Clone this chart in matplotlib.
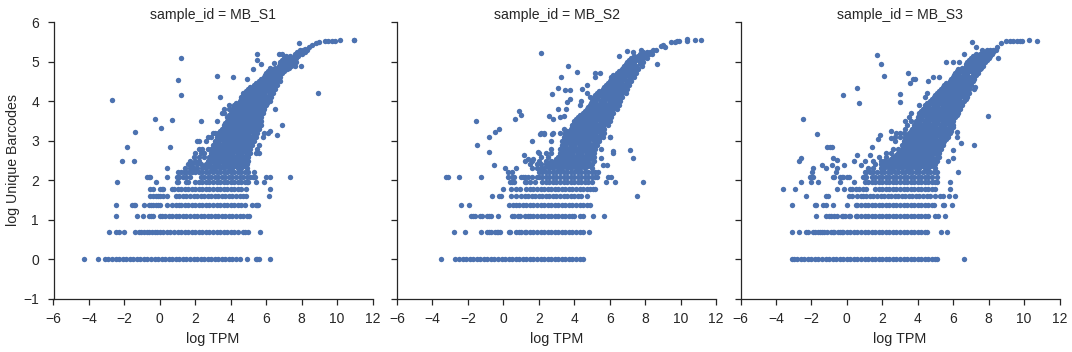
import matplotlib
matplotlib.use("Agg")
import matplotlib.pyplot as plt

plt.rcParams["font.family"] = ["Liberation Sans", "DejaVu Sans"]

titles = ["sample_id = MB_S1", "sample_id = MB_S2", "sample_id = MB_S3"]
xticks = [-6, -4, -2, 0, 2, 4, 6, 8, 10, 12]
yticks = [-1, 0, 1, 2, 3, 4, 5, 6]

# log counts show up as flat rows at the bottom
levels = [0.0, 0.693, 1.099, 1.386, 1.609, 1.792, 1.946, 2.079, 2.197]
cloud_y = [2.3, 2.4, 2.5, 2.6, 2.7, 2.8, 2.9, 3.0, 3.1, 3.2, 3.3, 3.4, 3.5, 3.6, 3.7, 3.8,
           3.9, 4.0, 4.1, 4.2, 4.3, 4.4, 4.5, 4.6, 4.7, 4.8, 4.9, 5.0, 5.1, 5.2, 5.3]
fill_y = [2.35, 2.45, 2.55, 2.65, 2.75, 2.85, 2.95, 3.05, 3.15, 3.25, 3.35, 3.45, 3.55, 3.65, 3.75,
          3.85, 3.95, 4.05, 4.15, 4.25, 4.35, 4.45, 4.55, 4.65, 4.75, 4.85, 4.95, 5.05, 5.15, 5.25]

s1_levels = [
    [-4.3, -3.5, -3.1, -2.9, -2.7, -2.5, -2.3, -2.1, -1.9, -1.7, -1.5, -1.3, -1.1, -0.9, -0.7, -0.5, -0.3, -0.1, 0.1, 0.3, 0.5, 0.7, 0.9, 1.1, 1.3, 1.5, 1.7, 1.9, 2.1, 2.3, 2.5, 2.7, 2.9, 3.1, 3.3, 3.5, 3.7, 3.9, 4.1, 4.3, 4.5, 4.9, 5.4, 5.5, 5.6, 6.2],
    [-2.85, -2.5, -2.3, -2.05, -1.4, -1.2, -1.05, -0.9, -0.75, -0.6, -0.45, -0.3, -0.15, 0.0, 0.2, 0.4, 0.6, 0.8, 1.0, 1.2, 1.4, 1.6, 1.8, 2.0, 2.2, 2.4, 2.6, 2.8, 3.0, 3.2, 3.4, 3.6, 3.8, 4.0, 4.2, 4.4, 4.7, 4.8, 4.95, 5.65],
    [-2.5, -1.3, -0.95, -0.6, -0.5, -0.4, 0.0, 0.15, 0.3, 0.5, 0.7, 0.9, 1.1, 1.3, 1.5, 1.7, 1.9, 2.1, 2.3, 2.5, 2.7, 2.9, 3.1, 3.3, 3.5, 3.7, 3.9, 4.1, 4.3, 4.5, 4.7, 4.9, 5.05],
    [-2.5, -1.55, -1.45, -1.4, -0.9, -0.6, -0.5, -0.4, -0.2, -0.1, 0.0, 0.4, 0.7, 0.9, 1.1, 1.2, 1.4, 1.6, 1.8, 2.0, 2.2, 2.4, 2.6, 2.8, 3.0, 3.2, 3.4, 3.6, 3.8, 4.0, 4.2, 4.4, 4.6, 4.8, 5.2, 5.4, 5.5, 5.55],
    [-0.55, -0.4, -0.2, -0.1, 0.0, 0.2, 0.4, 0.9, 1.1, 1.3, 1.5, 1.7, 1.9, 2.1, 2.3, 2.5, 2.7, 2.9, 3.1, 3.3, 3.5, 3.7, 3.9, 4.1, 4.3, 4.5, 4.7, 4.85, 6.15],
    [-0.55, -0.4, 0.0, 0.1, 0.2, 0.7, 0.8, 1.0, 1.2, 1.4, 1.6, 1.8, 2.0, 2.2, 2.4, 2.6, 2.8, 3.0, 3.2, 3.4, 3.6, 3.8, 4.0, 4.2, 4.4, 4.6, 4.85, 6.2],
    [-0.2, 0.95, 1.0, 1.5, 1.6, 2.0, 2.2, 2.4, 2.6, 2.8, 3.0, 3.2, 3.4, 3.6, 3.8, 4.0, 4.2, 4.4, 4.6, 4.8, 4.9, 5.0, 5.4, 5.85],
    [-0.7, -0.6, -0.55, 0.38, 0.95, 1.1, 1.3, 1.5, 1.7, 2.3, 2.5, 2.7, 2.9, 3.1, 3.3, 3.5, 3.7, 3.9, 4.1, 4.3, 4.5, 4.7, 4.9, 5.1, 5.25, 5.35, 6.0, 6.23, 7.36],
    [1.05, 1.2, 1.35, 1.5, 1.65, 1.8, 2.0, 2.2, 2.4, 2.6, 2.8, 3.0, 3.2, 3.4, 3.6, 3.8, 4.0, 4.2, 4.4, 4.6, 4.8, 5.0, 5.3],
]
s1_cloud = [
    [1.4, 1.7, 1.9, 2.1, 2.4, 2.6, 2.9, 3.1, 3.4, 3.6, 3.9, 4.1, 4.4, 4.6, 4.9],
    [1.6, 1.8, 2.1, 2.3, 2.6, 2.8, 3.1, 3.3, 3.6, 3.8, 4.1, 4.3, 4.6, 4.9],
    [1.7, 2.0, 2.2, 2.7, 2.9, 3.2, 3.4, 3.7, 3.9, 4.2, 4.4, 4.7, 5.0],
    [1.9, 2.2, 2.5, 2.8, 3.0, 3.3, 3.5, 3.8, 4.0, 4.3, 4.5, 4.8, 5.0],
    [2.0, 2.3, 2.5, 2.9, 3.1, 3.4, 3.6, 3.9, 4.1, 4.4, 4.6, 4.9, 5.1, 5.4, 5.6],
    [2.2, 2.4, 2.7, 2.9, 3.2, 3.4, 3.7, 3.9, 4.2, 4.4, 4.7, 4.9, 5.1, 5.5],
    [3.0, 3.2, 3.5, 3.7, 4.0, 4.2, 4.5, 4.7, 5.0, 5.2, 5.6],
    [2.1, 2.2, 2.6, 3.1, 3.3, 3.6, 3.8, 4.1, 4.3, 4.6, 4.8, 5.1, 5.3],
    [2.7, 2.9, 3.2, 3.4, 3.7, 3.9, 4.2, 4.4, 4.7, 4.9, 5.2, 5.4, 5.8],
    [3.0, 3.1, 3.3, 3.5, 3.8, 4.0, 4.3, 4.5, 4.8, 5.0, 5.3, 5.5, 5.9, 6.1],
    [3.5, 3.7, 4.0, 4.2, 4.5, 4.7, 5.0, 5.2, 5.4, 5.6],
    [3.6, 3.8, 4.1, 4.3, 4.6, 4.8, 5.1, 5.3, 5.5, 5.7],
    [3.2, 3.8, 4.0, 4.3, 4.5, 4.8, 5.0, 5.3, 5.5, 5.7],
    [3.8, 4.0, 4.3, 4.5, 4.8, 5.0, 5.3, 5.5, 5.7],
    [3.5, 3.6, 4.0, 4.2, 4.5, 4.7, 5.0, 5.2, 5.5, 5.8],
    [3.6, 3.9, 4.1, 4.3, 4.6, 4.8, 5.1, 5.3, 5.6, 5.9, 6.5],
    [3.9, 4.2, 4.4, 4.7, 4.9, 5.2, 5.4, 5.7, 6.0],
    [4.5, 4.7, 5.0, 5.2, 5.5, 5.7, 6.0, 6.2],
    [3.4, 4.6, 4.8, 5.1, 5.3, 5.6, 5.8, 6.1, 6.3],
    [4.7, 4.9, 5.2, 5.4, 5.7, 5.9, 6.2, 6.4],
    [5.0, 5.2, 5.5, 5.7, 6.0, 6.2, 6.5],
    [5.3, 5.5, 5.8, 6.0, 6.3, 6.6],
    [5.6, 5.8, 6.1, 6.3, 6.6, 6.8],
    [5.9, 6.1, 6.4, 6.6, 6.8],
    [6.0, 6.2, 6.5, 6.7, 6.9],
    [6.4, 6.6, 6.9, 7.2],
    [6.7, 6.9, 7.1, 7.4, 7.6],
    [6.8, 7.0, 7.3, 7.5, 7.7],
    [7.0, 7.2, 7.5, 7.7],
    [6.7, 6.9, 7.6, 7.8, 8.0],
    [7.9, 8.1, 8.3],
]
s1_fill = [
    [2.5, 2.75, 3.0, 3.25, 3.5, 3.75, 4.0, 4.25, 4.5, 4.75],
    [2.8, 3.05, 3.3, 3.55, 3.8, 4.05, 4.3, 4.55, 4.8],
    [2.85, 3.1, 3.35, 3.6, 3.85, 4.1, 4.35, 4.6, 4.85],
    [2.9, 3.15, 3.4, 3.65, 3.9, 4.15, 4.4, 4.65, 4.9],
    [3.0, 3.25, 3.5, 3.75, 4.0, 4.25, 4.5, 4.75, 5.0],
    [3.05, 3.3, 3.55, 3.8, 4.05, 4.3, 4.55, 4.8, 5.05],
    [3.1, 3.35, 3.6, 3.85, 4.1, 4.35, 4.6, 4.85, 5.1],
    [3.2, 3.45, 3.7, 3.95, 4.2, 4.45, 4.7, 4.95, 5.2],
    [3.3, 3.55, 3.8, 4.05, 4.3, 4.55, 4.8, 5.05, 5.3],
    [3.4, 3.65, 3.9, 4.15, 4.4, 4.65, 4.9, 5.15, 5.4],
    [3.6, 3.85, 4.1, 4.35, 4.6, 4.85, 5.1, 5.35, 5.6],
    [3.7, 3.95, 4.2, 4.45, 4.7, 4.95, 5.2, 5.45, 5.65],
    [3.9, 4.15, 4.4, 4.65, 4.9, 5.15, 5.4, 5.65],
    [3.9, 4.15, 4.4, 4.65, 4.9, 5.15, 5.4, 5.65],
    [4.1, 4.35, 4.6, 4.85, 5.1, 5.35, 5.6, 5.8],
    [4.2, 4.45, 4.7, 4.95, 5.2, 5.45, 5.7, 5.85],
    [4.3, 4.55, 4.8, 5.05, 5.3, 5.55, 5.8, 6.05],
    [4.6, 4.85, 5.1, 5.35, 5.6, 5.85, 6.1],
    [4.7, 4.95, 5.2, 5.45, 5.7, 5.95, 6.2],
    [4.85, 5.1, 5.35, 5.6, 5.85, 6.1, 6.35],
    [5.1, 5.35, 5.6, 5.85, 6.1, 6.4],
    [5.4, 5.65, 5.9, 6.15, 6.45],
    [5.7, 5.95, 6.2, 6.45, 6.7],
    [5.95, 6.25, 6.5, 6.75],
    [6.1, 6.35, 6.6, 6.8, 7.0],
    [6.5, 6.75, 7.0, 7.3],
    [6.8, 7.0, 7.25, 7.5],
    [6.9, 7.15, 7.4, 7.6],
    [7.1, 7.35, 7.6, 7.8],
    [7.75, 8.0, 8.2],
]
s1_out_x = [-2.71, 1.18, 1.0, 1.18, -0.3, 0.04, 0.71, -1.41, -1.86, -2.16, -1.46, 0.6, 0.38, -2.44, 2.35, 3.2, 4.15, 4.9, 5.48, 5.5, 5.72, 5.28, 6.42, 6.2, 7.85, 7.98, 8.93, 6.9, 6.62, 6.24, 10.97, 10.93, 10.15, 9.9, 9.7, 9.5, 9.3, 9.0, 8.8, 8.6, 8.4, 8.2, 8.0]
s1_out_y = [4.03, 5.1, 4.53, 4.16, 3.54, 3.33, 3.52, 3.22, 2.84, 2.48, 2.48, 2.84, 2.31, 1.95, 3.5, 4.63, 4.6, 4.56, 5.2, 5.04, 4.94, 4.81, 4.97, 4.84, 5.46, 4.89, 4.2, 3.39, 3.14, 3.25, 5.55, 5.55, 5.55, 5.53, 5.53, 5.52, 5.52, 5.5, 5.47, 5.42, 5.38, 5.33, 5.27]

s2_levels = [
    [-3.5, -2.7, -2.5, -2.3, -2.1, -1.9, -1.7, -1.5, -1.3, -1.1, -0.9, -0.7, -0.5, -0.3, -0.1, 0.1, 0.3, 0.5, 0.7, 0.9, 1.1, 1.3, 1.5, 1.7, 1.9, 2.1, 2.3, 2.5, 2.7, 2.9, 3.1, 3.3, 3.5, 3.7, 3.9, 4.1, 4.3, 4.5],
    [-2.77, -2.15, -1.25, -0.9, -0.8, -0.7, -0.45, -0.35, -0.3, -0.2, 0.3, 0.4, 0.7, 0.9, 1.0, 1.2, 1.3, 1.5, 1.7, 1.9, 2.1, 2.3, 2.5, 2.7, 2.9, 3.1, 3.3, 3.5, 3.7, 3.9, 4.1, 4.3, 4.5, 4.82],
    [-1.8, -1.7, -1.6, -1.3, -1.2, -0.9, -0.8, -0.7, -0.3, 0.5, 0.6, 0.85, 0.95, 1.2, 1.4, 1.5, 1.7, 1.9, 2.1, 2.3, 2.5, 2.7, 2.9, 3.1, 3.3, 3.5, 3.7, 3.9, 4.0, 4.3, 4.5, 5.05, 5.7],
    [-2.4, -1.95, 0.3, 0.55, 0.7, 0.9, 1.1, 1.3, 1.5, 1.7, 1.9, 2.1, 2.3, 2.5, 2.7, 2.9, 3.1, 3.3, 3.5, 3.7, 3.9, 4.1, 4.3, 4.5, 4.7, 4.9],
    [-0.65, -0.25, -0.15, 0.45, 0.7, 1.0, 1.2, 1.4, 1.6, 1.8, 2.0, 2.2, 2.4, 2.6, 2.8, 3.0, 3.2, 3.4, 3.6, 3.8, 4.0, 4.2, 4.4, 4.7, 7.55],
    [0.0, 0.45, 0.7, 0.95, 1.3, 1.5, 1.7, 1.9, 2.1, 2.3, 2.5, 2.7, 2.9, 3.1, 3.3, 3.5, 3.7, 3.9, 4.1, 4.3, 4.5, 4.7, 4.9, 5.05, 5.2],
    [0.4, 0.5, 0.6, 1.2, 1.3, 1.5, 1.8, 2.2, 2.4, 2.6, 2.8, 3.0, 3.2, 3.4, 3.6, 3.8, 4.0, 4.2, 4.4, 4.6, 4.8, 5.0, 5.8, 6.3, 7.9],
    [-3.25, -3.15, -2.5, -1.25, 0.25, 0.5, 0.6, 1.0, 1.1, 1.2, 1.4, 1.6, 1.9, 2.0, 2.2, 2.4, 2.6, 2.8, 3.0, 3.2, 3.4, 3.6, 3.8, 4.0, 4.2, 4.4, 4.6, 4.8, 5.0, 5.2, 5.3, 5.9, 6.1],
    [0.25, 0.5, 2.0, 2.2, 2.4, 2.6, 2.8, 3.0, 3.2, 3.4, 3.6, 3.8, 4.0, 4.2, 4.4, 4.6, 4.8, 5.0, 5.2, 5.35],
]
s2_cloud = [
    [1.6, 1.9, 2.1, 2.3, 2.6, 2.8, 3.1, 3.3, 3.6, 3.8, 4.1, 4.3, 4.6, 5.0],
    [1.5, 1.9, 2.1, 2.4, 2.6, 2.9, 3.1, 3.4, 3.6, 3.9, 4.1, 4.4, 4.7, 5.0],
    [1.2, 1.6, 2.0, 2.4, 2.7, 2.9, 3.2, 3.4, 3.7, 3.9, 4.2, 4.4, 4.7, 5.1],
    [2.1, 2.5, 3.1, 3.3, 3.6, 3.8, 4.1, 4.3, 4.6, 4.8, 5.1],
    [2.0, 2.4, 2.7, 3.2, 3.4, 3.7, 3.9, 4.2, 4.4, 4.7, 4.9, 5.1],
    [2.7, 3.2, 3.5, 3.7, 4.0, 4.2, 4.5, 4.7, 5.0, 5.2],
    [3.3, 3.5, 3.8, 4.0, 4.3, 4.5, 4.8, 5.0, 5.3],
    [2.7, 3.3, 3.6, 3.8, 4.1, 4.3, 4.6, 4.8, 5.1, 5.4],
    [3.4, 3.6, 3.9, 4.1, 4.4, 4.6, 4.9, 5.1, 5.4, 5.6, 6.0],
    [2.1, 2.3, 2.8, 3.2, 3.5, 3.7, 4.0, 4.2, 4.5, 4.7, 5.0, 5.2, 5.5, 5.7],
    [3.4, 3.8, 4.0, 4.3, 4.5, 4.8, 5.0, 5.3, 5.5, 5.7],
    [3.9, 4.1, 4.4, 4.6, 4.9, 5.1, 5.4, 5.6, 5.9],
    [4.0, 4.2, 4.5, 4.7, 5.0, 5.2, 5.5, 5.7, 6.0],
    [4.2, 4.4, 4.7, 4.9, 5.2, 5.4, 5.7, 5.9, 6.1],
    [4.5, 4.7, 5.0, 5.2, 5.5, 5.7, 6.0, 6.2],
    [4.7, 4.9, 5.2, 5.4, 5.7, 5.9, 6.2, 6.4],
    [4.9, 5.1, 5.4, 5.6, 5.9, 6.1, 6.3, 6.5],
    [4.4, 5.0, 5.2, 5.5, 5.7, 6.0, 6.2, 6.4, 6.6],
    [4.9, 5.1, 5.3, 5.6, 5.8, 6.1, 6.3, 6.5, 6.7],
    [4.7, 5.3, 5.5, 5.8, 6.0, 6.3, 6.5, 6.7, 6.9],
    [5.6, 5.8, 6.1, 6.3, 6.6, 6.8, 7.0],
    [5.8, 6.0, 6.3, 6.5, 6.8, 7.1],
    [6.0, 6.2, 6.5, 6.7, 7.0, 7.2],
    [5.2, 6.1, 6.3, 6.6, 6.8, 7.1, 7.4],
    [5.2, 5.44, 6.4, 6.6, 6.9, 7.1, 7.5],
    [6.7, 6.9, 7.2, 7.4, 7.6],
    [6.8, 7.0, 7.3, 7.5, 7.8],
    [7.0, 7.2, 7.4, 7.7, 7.9],
    [7.2, 7.4, 7.6, 7.9, 8.1],
    [7.7, 7.9, 8.2, 8.4],
    [7.79, 8.44, 8.63],
]
s2_fill = [
    [2.5, 2.75, 3.0, 3.25, 3.5, 3.75, 4.0, 4.25, 4.5, 4.75],
    [2.75, 3.0, 3.25, 3.5, 3.75, 4.0, 4.25, 4.5, 4.75],
    [3.0, 3.25, 3.5, 3.75, 4.0, 4.25, 4.5, 4.75, 5.0],
    [3.2, 3.45, 3.7, 3.95, 4.2, 4.45, 4.7, 5.0],
    [3.25, 3.5, 3.75, 4.0, 4.25, 4.5, 4.75, 5.0],
    [3.3, 3.55, 3.8, 4.05, 4.3, 4.55, 4.8, 5.1],
    [3.35, 3.6, 3.85, 4.1, 4.35, 4.6, 4.85, 5.2],
    [3.4, 3.65, 3.9, 4.15, 4.4, 4.65, 4.9, 5.15, 5.4],
    [3.5, 3.75, 4.0, 4.25, 4.5, 4.75, 5.0, 5.25, 5.5],
    [3.6, 3.85, 4.1, 4.35, 4.6, 4.85, 5.1, 5.35, 5.6],
    [3.9, 4.15, 4.4, 4.65, 4.9, 5.15, 5.4, 5.6],
    [4.0, 4.25, 4.5, 4.75, 5.0, 5.25, 5.5, 5.8],
    [4.1, 4.35, 4.6, 4.85, 5.1, 5.35, 5.6, 5.9],
    [4.3, 4.55, 4.8, 5.05, 5.3, 5.55, 5.8, 6.05],
    [4.6, 4.85, 5.1, 5.35, 5.6, 5.85, 6.1],
    [4.8, 5.05, 5.3, 5.55, 5.8, 6.05, 6.3],
    [4.95, 5.2, 5.45, 5.7, 5.95, 6.2, 6.45],
    [5.05, 5.3, 5.55, 5.8, 6.05, 6.3, 6.55],
    [5.2, 5.45, 5.7, 5.95, 6.2, 6.4, 6.6],
    [5.4, 5.65, 5.9, 6.15, 6.4, 6.6, 6.8],
    [5.7, 5.95, 6.2, 6.45, 6.7, 6.9],
    [5.9, 6.15, 6.4, 6.65, 7.0],
    [6.05, 6.3, 6.55, 6.8, 7.15],
    [6.2, 6.45, 6.7, 7.0, 7.3],
    [6.5, 6.75, 7.0, 7.2, 7.4],
    [6.75, 7.0, 7.25, 7.55],
    [6.9, 7.15, 7.4, 7.7],
    [7.1, 7.35, 7.6, 7.85],
    [7.4, 7.6, 7.8, 8.0],
    [7.9, 8.1, 8.3],
]
s2_out_x = [2.15, 3.67, 4.18, 3.28, 3.1, 3.47, 3.77, 2.72, 4.43, 4.7, 3.62, 3.77, 3.1, 3.53, 4.3, 0.87, 1.0, 0.66, -1.56, 2.57, 2.8, 3.2, 3.4, -0.24, -0.49, -0.83, -1.48, -0.83, -0.55, 1.6, 2.08, 2.27, 2.72, 1.16, 1.4, 1.65, 1.93, 7.13, 7.33, 6.2, 6.2, 5.53, 5.53, 5.63, 5.85, 6.02, 8.69, 7.0, 7.32, 6.55, 0.1, 0.7, 11.13, 10.79, 10.38, 10.35, 9.94, 9.8, 9.66, 9.47, 9.15, 9.0, 8.9]
s2_out_y = [5.22, 4.89, 4.74, 4.6, 4.33, 4.29, 4.29, 4.18, 4.3, 4.4, 3.97, 4.06, 3.79, 3.79, 3.89, 3.75, 3.65, 3.55, 3.49, 3.62, 3.54, 3.6, 3.63, 3.3, 3.22, 3.1, 2.89, 2.71, 2.39, 2.99, 3.16, 3.16, 3.16, 2.63, 2.55, 2.55, 2.72, 2.76, 2.56, 2.75, 2.7, 2.78, 2.56, 2.39, 2.39, 3.1, 4.94, 5.27, 5.23, 5.15, 2.31, 2.31, 5.55, 5.55, 5.53, 5.56, 5.53, 5.51, 5.49, 5.49, 5.38, 5.42, 5.39]

s3_levels = [
    [-3.1, -3.0, -2.8, -2.6, -2.4, -2.2, -2.0, -1.8, -1.6, -1.4, -1.2, -1.0, -0.8, -0.6, -0.4, -0.2, 0.0, 0.2, 0.4, 0.6, 0.8, 1.0, 1.2, 1.4, 1.6, 1.8, 2.0, 2.2, 2.4, 2.6, 2.8, 3.0, 3.2, 3.4, 3.6, 3.8, 4.0, 4.2, 4.4, 4.6, 4.8, 5.0, 5.1, 6.6],
    [-3.1, -2.7, -2.3, -2.2, -1.9, -1.8, -1.6, -1.5, -1.4, -1.3, -1.1, -0.9, -0.8, -0.7, -0.5, -0.4, -0.3, -0.2, 0.0, 0.2, 0.4, 0.6, 0.8, 1.0, 1.2, 1.4, 1.6, 1.8, 2.0, 2.2, 2.4, 2.6, 2.8, 3.0, 3.2, 3.4, 3.6, 3.8, 4.0, 4.2, 4.4, 4.5, 5.3, 5.65],
    [-1.75, -1.15, -1.0, -0.9, -0.7, -0.55, -0.3, -0.2, -0.1, 0.1, 0.2, 0.5, 0.6, 0.8, 1.0, 1.2, 1.4, 1.6, 1.8, 2.0, 2.2, 2.4, 2.6, 2.8, 3.0, 3.2, 3.4, 3.6, 3.8, 4.0, 4.2, 4.4, 4.6, 5.0, 5.15, 5.55],
    [-3.1, -1.8, -1.75, -1.35, -1.2, -0.8, 0.0, 0.5, 0.6, 0.8, 1.0, 1.2, 1.4, 1.6, 1.8, 2.0, 2.2, 2.4, 2.6, 2.8, 3.0, 3.2, 3.4, 3.6, 3.8, 4.0, 4.2, 4.4, 4.6, 4.8, 4.9, 5.4, 5.5, 5.95],
    [-2.3, -1.15, -1.05, 0.1, 0.3, 0.6, 0.8, 0.9, 1.1, 1.3, 1.5, 1.7, 1.9, 2.1, 2.3, 2.5, 2.7, 2.9, 3.1, 3.3, 3.5, 3.7, 3.9, 4.1, 4.3, 4.5, 4.7, 5.0, 5.25, 5.45, 5.78, 6.1],
    [-3.6, -2.9, -0.55, -0.15, 0.2, 0.3, 0.5, 0.7, 0.9, 1.1, 1.6, 1.8, 2.0, 2.2, 2.4, 2.6, 2.8, 3.0, 3.2, 3.4, 3.6, 3.8, 4.0, 4.2, 4.4, 4.6, 4.8, 5.0, 5.8],
    [-2.6, -2.0, -1.6, -0.4, 0.4, 1.0, 1.2, 1.4, 1.6, 1.8, 2.0, 2.2, 2.4, 2.6, 2.8, 3.0, 3.2, 3.4, 3.6, 3.8, 4.0, 4.2, 4.4, 4.6, 4.8, 5.0, 5.1, 5.8],
    [-2.1, -2.0, -1.9, -0.8, -0.7, -0.4, -0.3, -0.2, 0.0, 0.1, 0.9, 1.0, 1.1, 1.4, 1.6, 1.8, 2.0, 2.2, 2.4, 2.6, 2.8, 3.0, 3.2, 3.4, 3.6, 3.8, 4.0, 4.2, 4.4, 4.6, 4.8, 5.1],
    [-1.95, -0.6, 1.0, 1.1, 1.3, 1.5, 1.7, 1.9, 2.1, 2.3, 2.5, 2.7, 2.9, 3.1, 3.3, 3.5, 3.7, 3.9, 4.1, 4.3, 4.5, 4.7, 4.9, 5.1, 6.3],
]
s3_cloud = [
    [1.2, 1.5, 1.9, 2.1, 2.4, 2.6, 2.9, 3.1, 3.4, 3.6, 3.9, 4.1, 4.4, 4.6, 5.0],
    [1.6, 1.9, 2.1, 2.4, 2.6, 2.9, 3.1, 3.4, 3.6, 3.9, 4.1, 4.4, 4.7, 5.0],
    [1.5, 1.9, 2.1, 2.4, 2.7, 2.9, 3.2, 3.4, 3.7, 3.9, 4.2, 4.4, 4.7, 5.1],
    [1.8, 2.2, 2.6, 2.8, 3.0, 3.3, 3.5, 3.8, 4.0, 4.3, 4.5, 4.8, 5.2],
    [2.2, 2.5, 2.9, 3.1, 3.4, 3.6, 3.9, 4.1, 4.4, 4.6, 4.9, 5.2],
    [2.6, 2.9, 3.1, 3.3, 3.6, 3.8, 4.1, 4.3, 4.6, 4.8, 5.1, 5.3],
    [3.1, 3.3, 3.6, 3.8, 4.1, 4.3, 4.6, 4.8, 5.1, 5.4],
    [2.7, 3.2, 3.4, 3.7, 3.9, 4.2, 4.4, 4.7, 4.9, 5.2, 5.5],
    [2.7, 3.0, 3.3, 3.5, 3.8, 4.0, 4.3, 4.5, 4.8, 5.0, 5.3, 5.5, 5.7, 6.2],
    [2.8, 3.0, 3.2, 3.5, 3.7, 4.0, 4.2, 4.5, 4.7, 5.0, 5.2, 5.5, 5.8],
    [3.3, 3.7, 3.9, 4.2, 4.4, 4.7, 4.9, 5.2, 5.4, 5.7, 5.9],
    [3.4, 3.8, 4.0, 4.3, 4.5, 4.8, 5.0, 5.3, 5.5, 5.8, 6.0],
    [3.3, 3.6, 3.9, 4.1, 4.4, 4.6, 4.9, 5.1, 5.4, 5.6, 5.8, 6.0],
    [3.5, 4.0, 4.2, 4.5, 4.7, 5.0, 5.2, 5.5, 5.7, 5.9, 6.1],
    [3.6, 4.1, 4.3, 4.6, 4.8, 5.1, 5.3, 5.6, 5.8, 6.1, 6.3],
    [4.3, 4.5, 4.8, 5.0, 5.3, 5.5, 5.8, 6.0, 6.2, 6.4],
    [4.1, 4.4, 4.6, 4.9, 5.1, 5.4, 5.6, 5.9, 6.1, 6.3, 6.5],
    [4.7, 4.9, 5.2, 5.4, 5.7, 5.9, 6.2, 6.4, 6.6],
    [4.4, 4.9, 5.1, 5.4, 5.6, 5.9, 6.1, 6.4, 6.6, 6.8],
    [4.5, 5.1, 5.3, 5.6, 5.8, 6.1, 6.3, 6.6, 6.9],
    [5.3, 5.5, 5.8, 6.0, 6.3, 6.5, 6.7, 6.9, 7.2],
    [5.5, 5.7, 6.0, 6.2, 6.5, 6.8, 7.0],
    [4.6, 5.8, 6.0, 6.3, 6.5, 6.8, 7.1],
    [4.88, 5.18, 6.0, 6.2, 6.5, 6.7, 7.0, 7.2],
    [3.43, 6.1, 6.3, 6.6, 6.8, 7.1, 7.4],
    [6.3, 6.5, 6.8, 7.0, 7.3, 7.5],
    [6.7, 6.9, 7.2, 7.4, 7.7],
    [5.57, 6.0, 6.32, 6.8, 7.0, 7.3, 7.5, 7.8],
    [7.0, 7.2, 7.5, 7.7, 8.0, 8.54],
    [6.6, 7.3, 7.5, 7.8, 8.0, 8.2],
    [7.6, 7.9, 8.06, 8.25, 8.4],
]
s3_fill = [
    [2.0, 2.25, 2.5, 2.75, 3.0, 3.25, 3.5, 3.75, 4.0, 4.25, 4.5, 4.75],
    [2.25, 2.5, 2.75, 3.0, 3.25, 3.5, 3.75, 4.0, 4.25, 4.5, 4.75, 5.0],
    [2.5, 2.75, 3.0, 3.25, 3.5, 3.75, 4.0, 4.25, 4.5, 4.75, 5.0],
    [2.75, 3.0, 3.25, 3.5, 3.75, 4.0, 4.25, 4.5, 4.75, 5.1],
    [3.0, 3.25, 3.5, 3.75, 4.0, 4.25, 4.5, 4.75, 5.0, 5.2],
    [3.2, 3.45, 3.7, 3.95, 4.2, 4.45, 4.7, 4.95, 5.25],
    [3.2, 3.45, 3.7, 3.95, 4.2, 4.45, 4.7, 4.95, 5.2, 5.4],
    [3.3, 3.55, 3.8, 4.05, 4.3, 4.55, 4.8, 5.05, 5.3, 5.6],
    [3.4, 3.65, 3.9, 4.15, 4.4, 4.65, 4.9, 5.15, 5.4, 5.7],
    [3.6, 3.85, 4.1, 4.35, 4.6, 4.85, 5.1, 5.35, 5.6, 5.85],
    [3.8, 4.05, 4.3, 4.55, 4.8, 5.05, 5.3, 5.55, 5.8, 6.0],
    [3.9, 4.15, 4.4, 4.65, 4.9, 5.15, 5.4, 5.65, 5.95],
    [4.0, 4.25, 4.5, 4.75, 5.0, 5.25, 5.5, 5.75, 6.0],
    [4.1, 4.35, 4.6, 4.85, 5.1, 5.35, 5.6, 5.85, 6.2],
    [4.2, 4.45, 4.7, 4.95, 5.2, 5.45, 5.7, 5.95, 6.3],
    [4.4, 4.65, 4.9, 5.15, 5.4, 5.65, 5.9, 6.15, 6.4],
    [4.5, 4.75, 5.0, 5.25, 5.5, 5.75, 6.0, 6.25, 6.5],
    [4.8, 5.05, 5.3, 5.55, 5.8, 6.05, 6.3, 6.7],
    [5.0, 5.25, 5.5, 5.75, 6.0, 6.25, 6.5, 6.8],
    [5.2, 5.45, 5.7, 5.95, 6.2, 6.45, 6.85],
    [5.4, 5.65, 5.9, 6.15, 6.4, 6.65, 6.9],
    [5.6, 5.85, 6.1, 6.35, 6.6, 6.95],
    [5.9, 6.15, 6.4, 6.65, 6.9, 7.15],
    [6.05, 6.3, 6.55, 6.8, 7.3],
    [6.2, 6.45, 6.7, 6.95, 7.2, 7.4],
    [6.5, 6.75, 7.0, 7.25, 7.55],
    [6.75, 7.0, 7.25, 7.55, 7.7],
    [6.9, 7.15, 7.4, 7.65, 7.9],
    [7.1, 7.35, 7.6, 7.85, 8.1],
    [7.75, 8.0, 8.25],
]
s3_out_x = [1.73, 1.95, 2.12, 3.56, 3.75, 3.86, 0.56, -0.22, 0.71, -2.48, -1.7, -1.13, -0.94, -0.83, -0.79, -0.56, -2.59, -2.7, -1.41, -1.18, -1.91, -0.83, -0.53, -0.17, 0.56, 0.43, 0.8, 1.03, 1.44, 1.31, 1.88, 1.78, 2.5, 2.5, 3.02, 3.02, 7.97, 7.18, 6.42, 6.2, 5.97, 5.97, 5.72, 7.04, 7.28, 7.22, 10.75, 10.28, 9.9, 9.76, 9.6, 9.38, 9.2, 9.0, 8.72, 8.48]
s3_out_y = [5.16, 4.94, 4.64, 4.47, 4.57, 4.55, 4.33, 4.16, 3.96, 3.55, 3.17, 2.84, 2.84, 2.84, 2.56, 2.51, 2.56, 2.49, 2.39, 2.31, 2.31, 2.39, 2.31, 2.39, 2.64, 2.49, 2.39, 2.48, 2.84, 2.63, 3.15, 3.04, 3.24, 3.08, 4.18, 3.97, 3.62, 2.89, 2.94, 3.22, 2.76, 2.56, 2.48, 5.49, 5.37, 4.36, 5.52, 5.55, 5.53, 5.53, 5.53, 5.52, 5.52, 5.52, 5.47, 5.37]

panels = [
    (s1_levels, s1_cloud, s1_fill, s1_out_x, s1_out_y),
    (s2_levels, s2_cloud, s2_fill, s2_out_x, s2_out_y),
    (s3_levels, s3_cloud, s3_fill, s3_out_x, s3_out_y),
]

W, H = 1072, 352
lefts = [53.5, 397, 740.5]
axw = 319
top, bottom = 22, 299

fig = plt.figure(figsize=(W / 100, H / 100), dpi=100)
for i, (lev, cloud, fill, ox, oy) in enumerate(panels):
    ax = fig.add_axes([lefts[i] / W, 1 - bottom / H, axw / W, (bottom - top) / H])
    xs, ys = list(ox), list(oy)
    for y, row in zip(levels + cloud_y + fill_y, lev + cloud + fill):
        xs += row
        ys += [y] * len(row)
    ax.scatter(xs, ys, s=15, color="#4C72B0", linewidths=0, clip_on=False, zorder=3)
    ax.set_xlim(-6, 12)
    ax.set_ylim(-1, 6)
    ax.set_xticks(xticks)
    ax.set_yticks(yticks)
    ax.spines["top"].set_visible(False)
    ax.spines["right"].set_visible(False)
    for s in ["left", "bottom"]:
        ax.spines[s].set_color("#262626")
        ax.spines[s].set_linewidth(0.9)
    ax.tick_params(direction="out", length=4.5, width=0.9, color="#262626",
                   labelcolor="#262626", labelsize=10, labelleft=(i == 0))
    ax.tick_params(axis="x", pad=5)
    ax.tick_params(axis="y", pad=6)
    ax.set_xlabel("log TPM", fontsize=10.4, color="#262626", labelpad=4.5)
    ax.set_title(titles[i], fontsize=10.1, color="#262626", pad=2.5)
    if i == 0:
        ax.set_ylabel("log Unique Barcodes", fontsize=10.2, color="#262626", labelpad=2)

fig.savefig("out.png", dpi=100)
